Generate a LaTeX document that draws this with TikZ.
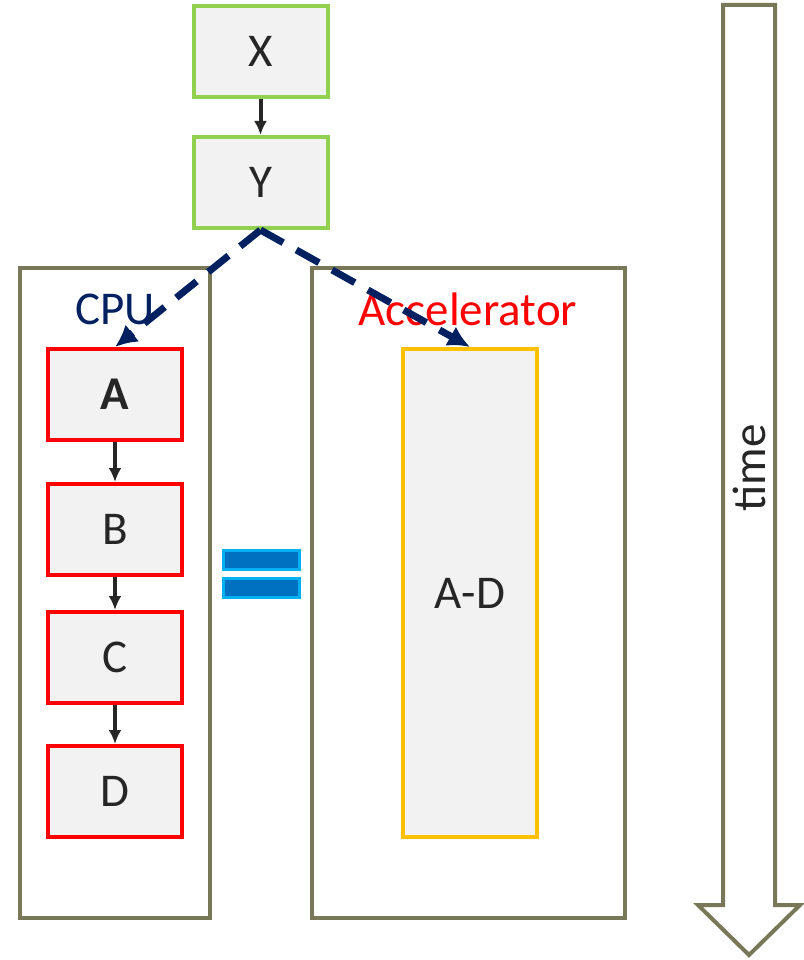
\documentclass[tikz,border=0pt]{standalone}
\usepackage{fontspec}
\setmainfont{Carlito}
\usepackage{tikz}
\usetikzlibrary{arrows.meta, positioning}

\definecolor{boxgreen}{RGB}{146,208,80}
\definecolor{boxred}{RGB}{255,0,0}
\definecolor{boxorange}{RGB}{255,192,0}
\definecolor{frameolive}{RGB}{120,120,88}
\definecolor{navy}{RGB}{0,32,96}
\definecolor{boxfill}{RGB}{242,242,242}
\definecolor{darktext}{RGB}{38,38,38}
\definecolor{eqblue}{RGB}{0,112,192}
\definecolor{eqcyan}{RGB}{0,176,240}

\begin{document}
\begin{tikzpicture}[x=1pt, y=-1pt,
        every node/.style={font=\fontsize{47}{56}\selectfont, text=darktext},
        task/.style={rectangle, fill=boxfill, line width=4pt, minimum width=134pt, minimum height=91pt, inner sep=0pt},
        frame/.style={rectangle, draw=frameolive, line width=4pt, inner sep=0pt, minimum height=650pt},
        eqbar/.style={rectangle, fill=eqblue, draw=eqcyan, line width=3pt, minimum width=76pt, minimum height=19pt, inner sep=0pt},
        arrow/.style={-{Latex[length=14pt, width=13pt]}, line width=4pt, darktext},
        offload/.style={-{Latex[length=22pt, width=22pt]}, line width=7pt, navy, dash pattern=on 26pt off 15pt}
    ]
        \fill[white] (0,0) rectangle (803,960);

        % host side
        \node[task, draw=boxgreen] (x) at (260.5,51.5) {X};
        \node[task, draw=boxgreen] (y) at (260.5,182.5) {Y};

        % the two executions
        \node[frame, minimum width=190pt] (cpu) at (115,593) {};
        \node[frame, minimum width=313pt] (acc) at (468.5,593) {};
        \node[text=navy] (cpulabel) at (115,309) {CPU};
        \node[text=boxred] (acclabel) at (468,309) {Accelerator};

        \node[task, draw=boxred] (a) at (115,394.5) {\textbf{A}};
        \node[task, draw=boxred] (b) at (115,529.5) {B};
        \node[task, draw=boxred] (c) at (115,657.5) {C};
        \node[task, draw=boxred] (d) at (115,791.5) {D};
        \node[task, draw=boxorange, minimum height=488pt] (ad) at (470,593) {A-D};

        \node[eqbar] (eqtop) at (261,559.5) {};
        \node[eqbar] (eqbot) at (261,587.5) {};

        \draw[arrow] (x) -- (y);
        \draw[arrow] (a) -- (b);
        \draw[arrow] (b) -- (c);
        \draw[arrow] (c) -- (d);

        \draw[offload] (y.south) -- (a.north);
        \draw[offload] (y.south) -- (ad.north);

        % time axis
        \draw[frameolive, line width=4pt, fill=white, line join=miter]
            (723,5) -- (775,5) -- (775,905) -- (800,905) -- (749,955) -- (698,905) -- (723,905) -- cycle;
        \node[rotate=90] (time) at (749,468) {time};
    \end{tikzpicture}
\end{document}
